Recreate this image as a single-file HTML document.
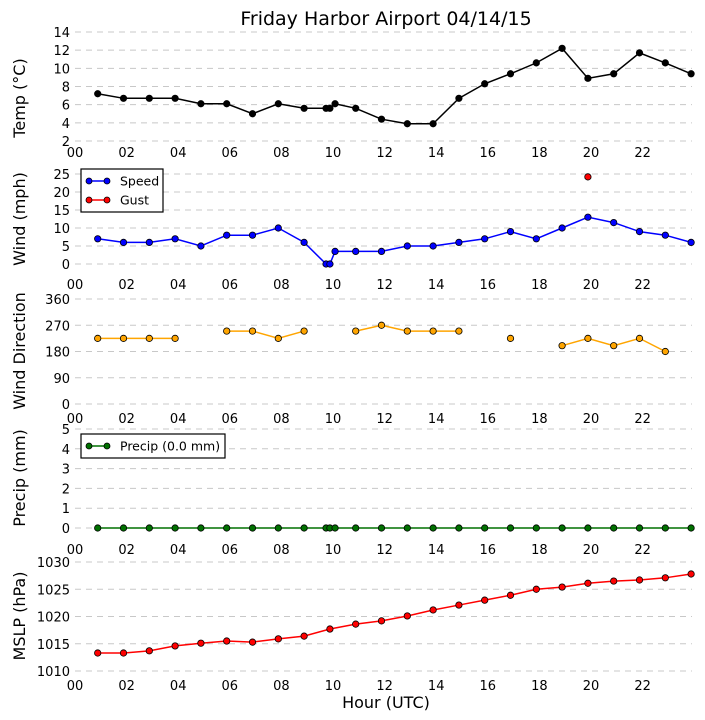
<!DOCTYPE html>
<html><head><meta charset="utf-8"><style>
body{margin:0;background:#fff;}
svg{display:block;font-family:"DejaVu Sans","Liberation Sans",sans-serif;}
</style></head><body>
<svg id="c" width="705" height="720">
<text x="386" y="25" font-size="19" text-anchor="middle">Friday Harbor Airport 04/14/15</text>
</svg>
<script>
const hours=[0.88,1.88,2.88,3.88,4.88,5.88,6.88,7.88,8.88,9.73,9.88,10.08,10.88,11.88,12.88,13.88,14.88,15.88,16.88,17.88,18.88,19.88,20.88,21.88,22.88,23.88];
const temps=[7.2,6.7,6.7,6.7,6.1,6.1,5.0,6.1,5.6,5.6,5.6,6.1,5.6,4.4,3.9,3.9,6.7,8.3,9.4,10.6,12.2,8.9,9.4,11.7,10.6,9.4];
const speeds=[7,6,6,7,5,8,8,10,6,0,0,3.5,3.5,3.5,5,5,6,7,9,7,10,13,11.5,9,8,6];
const gusts=[null,null,null,null,null,null,null,null,null,null,null,null,null,null,null,null,null,null,null,null,null,24.2,null,null,null,null];
const dirs=[225,225,225,225,null,250,250,225,250,null,null,null,250,270,250,250,250,null,225,null,200,225,200,225,180,null];
const precip=[0,0,0,0,0,0,0,0,0,0,0,0,0,0,0,0,0,0,0,0,0,0,0,0,0,0];
const pHours=[0.88,1.88,2.88,3.88,4.88,5.88,6.88,7.88,8.88,9.88,10.88,11.88,12.88,13.88,14.88,15.88,16.88,17.88,18.88,19.88,20.88,21.88,22.88,23.88];
const pressure=[1013.3,1013.3,1013.7,1014.6,1015.1,1015.5,1015.3,1015.9,1016.4,1017.7,1018.6,1019.2,1020.1,1021.2,1022.1,1023.0,1023.9,1025.0,1025.4,1026.1,1026.5,1026.7,1027.1,1027.8];
const xTicks=["00","02","04","06","08","10","12","14","16","18","20","22"];
const NS="http://www.w3.org/2000/svg";
const svg=document.getElementById('c');
const X0=75,XS=25.8;
const x=h=>X0+h*XS;
function el(t,a,p){const e=document.createElementNS(NS,t);for(const k in a)e.setAttribute(k,a[k]);(p||svg).appendChild(e);return e;}
const panels=[
 {name:'temp',title:'Temp (\u00B0C)',ymin:2,ymax:14,top:32,bot:141,ticks:[2,4,6,8,10,12,14],xl:152,ty:98},
 {name:'wind',title:'Wind (mph)',ymin:0,ymax:25,top:174,bot:264,ticks:[0,5,10,15,20,25],xl:284,ty:219},
 {name:'direction',title:'Wind Direction',ymin:0,ymax:360,top:299,bot:404,ticks:[0,90,180,270,360],xl:418,ty:351},
 {name:'precip',title:'Precip (mm)',ymin:0,ymax:5,top:429,bot:528,ticks:[0,1,2,3,4,5],xl:549,ty:478},
 {name:'pressure',title:'MSLP (hPa)',ymin:1010,ymax:1030,top:562,bot:671,ticks:[1010,1015,1020,1025,1030],xl:685,ty:616}
];
panels.forEach(p=>{
 p.y=v=>p.bot-(v-p.ymin)/(p.ymax-p.ymin)*(p.bot-p.top);
 const g=el('g',{});
 
 
 p.ticks.forEach(t=>{
  const l=el('line',{x1:75,x2:692,y1:p.y(t),y2:p.y(t),stroke:'#c8c8c8','stroke-dasharray':'6,5'},g);
  
  
  const tx=el('text',{x:70,y:p.y(t)+5,'font-size':13,'text-anchor':'end'},g);
  tx.textContent=t;
  
  
 });
 xTicks.forEach((t,i)=>{
  const tx=el('text',{x:x(i*2),y:p.xl+5,'font-size':13,'text-anchor':'middle'},g);
  tx.textContent=t;
  
  
 });
 const yt=el('text',{x:0,y:0,'font-size':16,'text-anchor':'middle',transform:`translate(25,${p.ty}) rotate(-90)`},g);
 yt.textContent=p.title;
 
 
});
function series(p,hs,vs,color,name,r){
 let segs=[],cur=[];
 hs.forEach((h,i)=>{const v=vs[i];if(v==null){if(cur.length)segs.push(cur);cur=[];}else cur.push([x(h),p.y(v)]);});
 if(cur.length)segs.push(cur);
 segs.forEach(s=>{if(s.length>1){const pl=el('polyline',{points:s.map(q=>q.join(',')).join(' '),fill:'none',stroke:color,'stroke-width':1.5});
  
  }});
 hs.forEach((h,i)=>{const v=vs[i];if(v==null)return;
  const c=el('circle',{cx:x(h),cy:p.y(v),r:r||3.2,fill:color,stroke:'#000','stroke-width':0.8});
  
  });
}
series(panels[0],hours,temps,'#000','temp');
series(panels[1],hours,speeds,'#0000ff','speed');
series(panels[1],hours,gusts,'#ff0000','gust');
series(panels[2],hours,dirs,'#ffa500','direction');
series(panels[3],hours,precip,'#007000','precip');
series(panels[4],pHours,pressure,'#ff0000','pressure');
function legend(x0,y0,w,items,name){
 const g=el('g',{});
 
 
 el('rect',{x:x0,y:y0,width:w,height:items.length*19+5,fill:'#fff',stroke:'#000','stroke-width':1.2},g);
 items.forEach((it,i)=>{const yy=y0+12+i*19;
  el('line',{x1:x0+8,x2:x0+26,y1:yy,y2:yy,stroke:it[1],'stroke-width':1.5},g);
  el('circle',{cx:x0+8,cy:yy,r:3,fill:it[1],stroke:'#000','stroke-width':0.8},g);
  el('circle',{cx:x0+26,cy:yy,r:3,fill:it[1],stroke:'#000','stroke-width':0.8},g);
  const t=el('text',{x:x0+39,y:yy+4.5,'font-size':12.5},g);t.textContent=it[0];
  
  
 });
}
legend(81,169,82,[['Speed','#0000ff'],['Gust','#ff0000']],'wind-legend');
legend(81,434,144,[['Precip (0.0 mm)','#007000']],'precip-legend');
const xt=el('text',{x:386,y:708,'font-size':16,'text-anchor':'middle'});
xt.textContent='Hour (UTC)';


</script>
</body></html>
